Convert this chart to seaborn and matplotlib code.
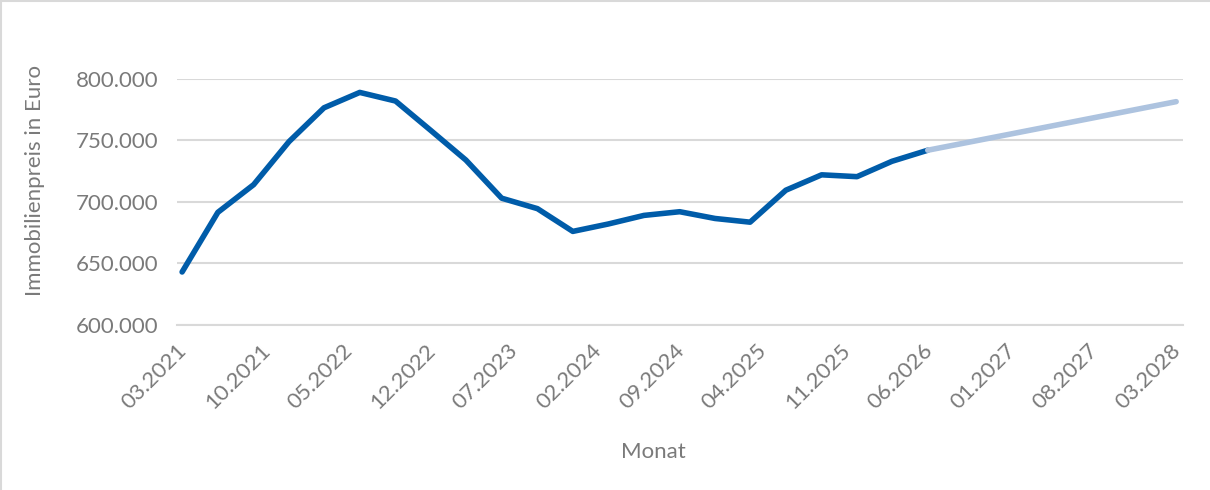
import pandas as pd
import seaborn as sns
import matplotlib.pyplot as plt
from matplotlib.patches import Rectangle
from matplotlib.ticker import FuncFormatter

# Quarterly values (mid-month).
hist_dates = [
    "2021-03-15", "2021-06-15", "2021-09-15", "2021-12-15",
    "2022-03-15", "2022-06-15", "2022-09-15", "2022-12-15",
    "2023-03-15", "2023-06-15", "2023-09-15", "2023-12-15",
    "2024-03-15", "2024-06-15", "2024-09-15", "2024-12-15",
    "2025-03-15", "2025-06-15", "2025-09-15", "2025-12-15",
    "2026-03-15", "2026-06-15",
]
hist_prices = [
    643000, 691500, 714000, 749000,
    776500, 789000, 782000, 758000,
    734000, 703000, 694500, 676000,
    682000, 689000, 692000, 686500,
    683500, 709500, 722000, 720500,
    733000, 742000,
]
forecast_dates = ["2026-06-15", "2028-03-15"]
forecast_prices = [742000, 781500]

tick_start = "2021-03-01"
tick_end = "2028-03-01"

df = pd.concat([
    pd.DataFrame({"Datum": pd.to_datetime(hist_dates), "Preis": hist_prices, "Serie": "Ist"}),
    pd.DataFrame({"Datum": pd.to_datetime(forecast_dates), "Preis": forecast_prices, "Serie": "Prognose"}),
])

sns.set_style("white")
plt.rcParams["font.family"] = ["Lato", "DejaVu Sans"]
grey_text = "#7a7a7a"
grid_color = "#d9d9d9"

fig = plt.figure(figsize=(12.1, 4.9), dpi=100)
ax = fig.add_axes([0.146, 0.337, 0.8315, 0.502])

sns.lineplot(
    data=df, x="Datum", y="Preis", hue="Serie",
    palette={"Ist": "#005ca9", "Prognose": "#adc3df"},
    linewidth=4, legend=False, ax=ax,
    solid_capstyle="round", solid_joinstyle="round",
)

# Excel-like date axis: labels every 7 months, extra tick 3 months later.
major = pd.date_range(tick_start, tick_end, freq="7MS")
minor = major[:-1] + pd.DateOffset(months=3)
ax.set_xticks(major)
ax.set_xticklabels([d.strftime("%m.%Y") for d in major], rotation=45, ha="right",
                   rotation_mode="anchor", fontsize=16, color=grey_text)
ax.set_xticks(minor, minor=True)
ax.set_xlim(pd.Timestamp(tick_start), pd.Timestamp(tick_end) + pd.DateOffset(months=1))

ax.set_ylim(600000, 800000)
ax.set_yticks(range(600000, 800001, 50000))
ax.yaxis.set_major_formatter(FuncFormatter(lambda v, _: f"{v:,.0f}".replace(",", ".")))
ax.tick_params(axis="y", labelsize=16, labelcolor=grey_text, length=0, pad=13)
ax.tick_params(axis="x", which="both", length=7, width=1.5, color=grid_color,
               direction="out", pad=4)

ax.grid(axis="y", color=grid_color, linewidth=1.5)
ax.set_axisbelow(True)
for side in ["top", "right", "left"]:
    ax.spines[side].set_visible(False)
ax.spines["bottom"].set_color(grid_color)
ax.spines["bottom"].set_linewidth(1.5)

ax.set_xlabel("")
ax.set_ylabel("")
fig.text(0.54, 1 - 452 / 490, "Monat", fontsize=16, color=grey_text, ha="center", va="center")
fig.text(0.029, 1 - 180 / 490, "Immobilienpreis in Euro", fontsize=16, color=grey_text,
         ha="center", va="center", rotation=90)

fig.patches.append(Rectangle((0.001, -0.01), 1.2, 1.007, transform=fig.transFigure,
                             fill=False, edgecolor=grid_color, linewidth=1.5))

fig.savefig("out.png", dpi=100)
